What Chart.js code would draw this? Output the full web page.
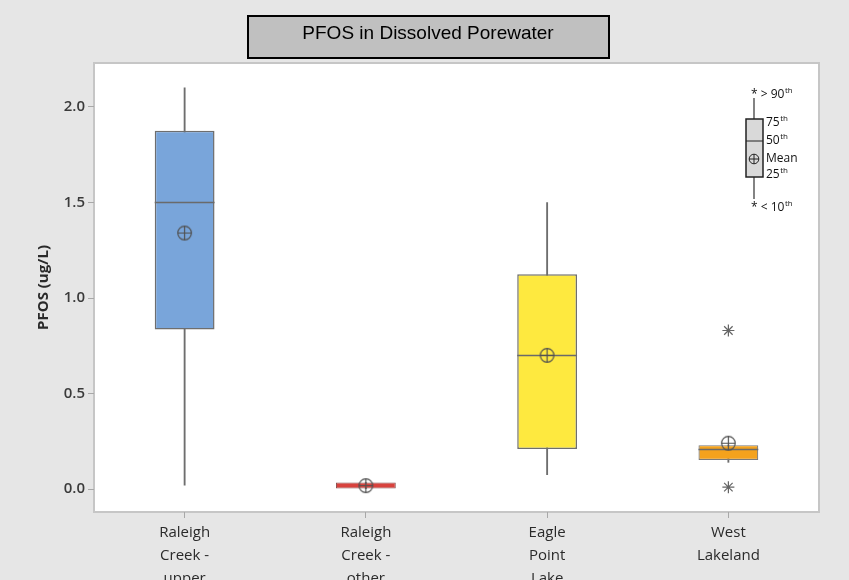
<!DOCTYPE html>
<html><head><meta charset="utf-8">
<script src="https://cdn.jsdelivr.net/npm/chart.js@4"></script>
<style>html,body{margin:0;padding:0;background:#e6e6e6;overflow:hidden}</style>
</head><body>
<canvas id="c" width="849" height="580"></canvas>
<script>
const categories = [["Raleigh","Creek -","upper"],["Raleigh","Creek -","other"],["Eagle","Point","Lake"],["West","Lakeland"]];
const whiskerLow  = [0.02, 0.0, 0.075, 0.14];
const q1          = [0.835, 0.0, 0.21, 0.152];
const median      = [1.50, 0.016, 0.70, 0.21];
const q3          = [1.875, 0.034, 1.125, 0.23];
const whiskerHigh = [2.10, 0.034, 1.50, 0.23];
const mean        = [1.34, 0.018, 0.70, 0.24];
const outliers    = [[], [], [], [0.83, 0.01]];
const boxColors   = ['#79a5da', '#d8423d', '#fee93f', '#f4a21d'];
const yTicks      = [0, 0.5, 1.0, 1.5, 2.0];
const yMin = -0.12, yMax = 2.23;
const chartTitle = 'PFOS in Dissolved Porewater';
const yTitle = 'PFOS (ug/L)';

function meanMarker(){
  const s = 17, c = document.createElement('canvas');
  c.width = c.height = s;
  const g = c.getContext('2d');
  g.strokeStyle = '#505050'; g.lineWidth = 1.2;
  g.beginPath(); g.arc(8.5, 8.5, 6.8, 0, Math.PI*2); g.stroke();
  g.beginPath(); g.moveTo(1.7, 8.5); g.lineTo(15.3, 8.5); g.moveTo(8.5, 1.7); g.lineTo(8.5, 15.3); g.stroke();
  return c;
}
const meanImg = meanMarker();

const nOut = Math.max(...outliers.map(o => o.length));
const outlierSets = [];
for (let k = 0; k < nOut; k++) {
  outlierSets.push({
    type: 'line', label: 'outlier' + k, showLine: false, order: 0,
    data: outliers.map(o => (o[k] !== undefined ? o[k] : null)),
    pointStyle: 'star', pointRadius: 6, pointBorderColor: '#666', pointBorderWidth: 1.2,
    pointBackgroundColor: 'rgba(0,0,0,0)'
  });
}

const decor = {
  id: 'decor',
  beforeDraw(chart){
    const {ctx, chartArea: a} = chart;
    ctx.save();
    ctx.fillStyle = '#e6e6e6'; ctx.fillRect(0, 0, chart.width, chart.height);
    ctx.fillStyle = '#ffffff'; ctx.fillRect(a.left, a.top, a.right - a.left, a.bottom - a.top);
    ctx.strokeStyle = '#c6c6c6'; ctx.lineWidth = 2;
    ctx.strokeRect(a.left, a.top, a.right - a.left, a.bottom - a.top);
    ctx.restore();
  },
  afterDatasetDraw(chart, args){
    if (args.index !== 1) return;
    const {ctx} = chart; const y = chart.scales.y;
    const meta = chart.getDatasetMeta(1);
    ctx.save(); ctx.strokeStyle = '#6a6a6a'; ctx.lineWidth = 1.5;
    meta.data.forEach((el, i) => {
      if (i === 1) return;
      const py = Math.round(y.getPixelForValue(median[i])) + 0.5;
      ctx.beginPath(); ctx.moveTo(el.x - el.width/2, py); ctx.lineTo(el.x + el.width/2, py); ctx.stroke();
    });
    ctx.restore();
  },
  afterDraw(chart){
    const {ctx} = chart;
    ctx.save();
    // title box
    ctx.fillStyle = '#c0c0c0'; ctx.fillRect(248, 16, 361, 42);
    ctx.strokeStyle = '#000'; ctx.lineWidth = 2; ctx.strokeRect(248, 16, 361, 42);
    ctx.fillStyle = '#000'; ctx.font = '19px "Liberation Sans", Arial, sans-serif';
    ctx.textAlign = 'center'; ctx.textBaseline = 'middle';
    ctx.fillText(chartTitle, 428, 34);
    // key
    const kx = 754;
    ctx.strokeStyle = '#333'; ctx.lineWidth = 1.2;
    ctx.beginPath(); ctx.moveTo(kx, 98); ctx.lineTo(kx, 119); ctx.moveTo(kx, 177); ctx.lineTo(kx, 199); ctx.stroke();
    ctx.fillStyle = '#d9d9d9'; ctx.fillRect(746, 119, 17, 58);
    ctx.lineWidth = 1.5; ctx.strokeStyle = '#222'; ctx.strokeRect(746, 119, 17, 58);
    ctx.lineWidth = 1; ctx.beginPath(); ctx.moveTo(746, 141); ctx.lineTo(763, 141); ctx.stroke();
    ctx.beginPath(); ctx.arc(kx, 159, 4.8, 0, Math.PI*2);
    ctx.moveTo(kx-4.8, 159); ctx.lineTo(kx+4.8, 159); ctx.moveTo(kx, 154.2); ctx.lineTo(kx, 163.8); ctx.stroke();
    ctx.fillStyle = '#111'; ctx.textAlign = 'left'; ctx.textBaseline = 'middle';
    function sup(x, y, main, s){
      ctx.font = '12px "Open Sans", sans-serif'; ctx.fillText(main, x, y);
      const w = ctx.measureText(main).width;
      ctx.font = '8px "Open Sans", sans-serif'; ctx.fillText(s, x + w + 0.5, y - 4);
    }
    sup(751, 95, '* > 90', 'th');
    sup(766, 123, '75', 'th');
    sup(766, 141, '50', 'th');
    ctx.font = '12px "Open Sans", sans-serif'; ctx.fillText('Mean', 766, 159);
    sup(766, 175, '25', 'th');
    sup(751, 208, '* < 10', 'th');
    ctx.restore();
  }
};

new Chart(document.getElementById('c'), {
  type: 'bar',
  data: {
    labels: categories,
    datasets: [
      { label: 'whisker', data: categories.map((c, i) => [whiskerLow[i], whiskerHigh[i]]),
        backgroundColor: '#6e6e6e', barThickness: 1.2, grouped: false, order: 3 },
      { label: 'box', data: categories.map((c, i) => [q1[i], q3[i]]),
        backgroundColor: boxColors, borderColor: ['#6e6e6e', '#8a5050', '#6e6e6e', '#7a7a7a'],
        borderWidth: [1.5, 1, 1.5, 1.2], borderSkipped: false,
        barPercentage: 0.33, categoryPercentage: 1, grouped: false, order: 2 },
      { type: 'line', label: 'mean', data: mean, showLine: false, order: 1,
        pointStyle: meanImg, pointRadius: 8 },
      ...outlierSets
    ]
  },
  options: {
    responsive: false, animation: false, devicePixelRatio: 1,
    layout: { padding: { top: 63, right: 30, left: 0, bottom: 0 } },
    plugins: { legend: { display: false }, tooltip: { enabled: false }, title: { display: false } },
    scales: {
      x: {
        offset: true,
        afterFit: s => { s.height = 68; },
        ticks: { font: { family: 'Open Sans', size: 15, lineHeight: 1.55 }, color: '#2a2a2a', padding: 3, maxRotation: 0, autoSkip: false },
        grid: { offset: false, drawOnChartArea: false, tickLength: 6, color: '#a8a8a8' },
        border: { display: false }
      },
      y: {
        min: yMin, max: yMax,
        afterBuildTicks: s => { s.ticks = yTicks.map(v => ({ value: v })); },
        afterFit: s => { s.width = 94; },
        ticks: { callback: v => Number(v).toFixed(1), font: { family: 'Open Sans', size: 15, weight: '600' }, color: '#3a3a3a', padding: 3 },
        grid: { drawOnChartArea: false, tickLength: 6, color: '#a8a8a8' },
        border: { display: false },
        title: { display: true, text: yTitle, font: { family: 'Open Sans', size: 15, weight: 'bold' }, color: '#2a2a2a', padding: { top: 35, bottom: 0 } }
      }
    }
  },
  plugins: [decor]
});
</script>
</body></html>
